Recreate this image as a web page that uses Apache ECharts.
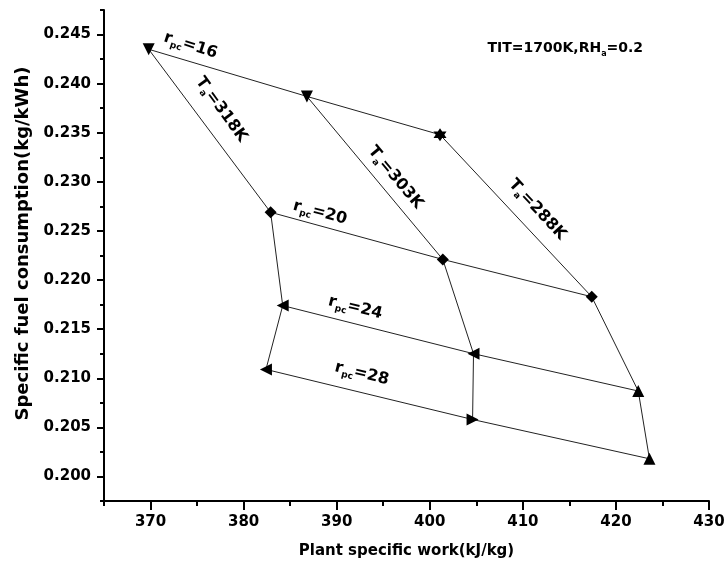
<!DOCTYPE html>
<html>
<head>
<meta charset="utf-8">
<script src="https://cdn.jsdelivr.net/npm/echarts@6/dist/echarts.min.js"></script>
<style>html,body{margin:0;padding:0;background:#fff;}#chart{width:725px;height:571px;}</style>
</head>
<body>
<div id="chart"></div>
<script>
// ---- data ----
const rpcLevels = [16, 20, 24, 28];
const taLevels = [318, 303, 288];
const work318 = [369.8, 382.9, 384.2, 382.4];
const sfc318  = [0.2435, 0.2269, 0.2174, 0.2109];
const work303 = [386.8, 401.4, 404.7, 404.6];
const sfc303  = [0.2387, 0.2221, 0.2125, 0.2058];
const work288 = [401.1, 417.4, 422.4, 423.6];
const sfc288  = [0.2348, 0.2183, 0.2087, 0.2018];
const xTicks = [370, 380, 390, 400, 410, 420, 430];
const xMinorTicks = [365, 375, 385, 395, 405, 415, 425];
const yTicks = [0.200, 0.205, 0.210, 0.215, 0.220, 0.225, 0.230, 0.235, 0.240, 0.245];
const yMinorTicks = [0.1975, 0.2025, 0.2075, 0.2125, 0.2175, 0.2225, 0.2275, 0.2325, 0.2375, 0.2425, 0.2475];
const xTitle = 'Plant specific work(kJ/kg)';
const yTitle = 'Specific fuel consumption(kg/kWh)';
const noteText = '{n|TIT=1700K,RH}{s|a}{n|=0.2}';

// ---- styling ----
const FONT = 'DejaVu Sans';
const cols = [
  {work: work318, sfc: sfc318},
  {work: work303, sfc: sfc303},
  {work: work288, sfc: sfc288}
];
// marker symbol per [row r_pc][column T_a]
const DOWN = {symbol: 'triangle', rot: 180};
const UP = {symbol: 'triangle', rot: 0};
const LEFT = {symbol: 'triangle', rot: 90};
const RIGHT = {symbol: 'triangle', rot: -90};
const DIAM = {symbol: 'diamond', rot: 0};
const STAR = {symbol: 'path://M0,-10L2.89,-5L8.66,-5L5.77,0L8.66,5L2.89,5L0,10L-2.89,5L-8.66,5L-5.77,0L-8.66,-5L-2.89,-5Z', rot: 0};
const markerTable = [
  [DOWN, DOWN, STAR],
  [DIAM, DIAM, DIAM],
  [LEFT, LEFT, UP],
  [LEFT, RIGHT, UP]
];

const lineStyle = {color: '#222', width: 1};
const series = [];
// constant-T_a lines
cols.forEach((c, ci) => {
  series.push({
    type: 'line', name: 'Ta=' + taLevels[ci] + 'K', silent: true, showSymbol: false, symbol: 'none',
    lineStyle: lineStyle, z: 2,
    data: c.work.map((w, i) => [w, c.sfc[i]])
  });
});
// constant-r_pc lines
rpcLevels.forEach((r, ri) => {
  series.push({
    type: 'line', name: 'rpc=' + r, silent: true, showSymbol: false, symbol: 'none',
    lineStyle: lineStyle, z: 2,
    data: cols.map(c => [c.work[ri], c.sfc[ri]])
  });
});
// markers
const markerData = [];
rpcLevels.forEach((r, ri) => {
  cols.forEach((c, ci) => {
    const m = markerTable[ri][ci];
    markerData.push({
      value: [c.work[ri], c.sfc[ri]],
      symbol: m.symbol,
      symbolRotate: m.rot,
      symbolSize: m.symbol === 'diamond' ? 12 : (m.symbol === 'triangle' ? 12 : 13)
    });
  });
});
series.push({
  type: 'scatter', silent: true, z: 5,
  itemStyle: {color: '#000', opacity: 1},
  data: markerData
});

// annotations (text placed in data coordinates)
const rich = {
  n: {fontFamily: FONT, fontWeight: 'bold', fontSize: 16, color: '#000'},
  s: {fontFamily: FONT, fontWeight: 'bold', fontSize: 9, color: '#000', padding: [11, 0, 0, 0]}
};
const annotations = [
  {pos: [374.3, 0.24388], rot: -18, text: '{n|r}{s|pc}{n|=' + rpcLevels[0] + '}'},
  {pos: [388.2, 0.22687], rot: -15, text: '{n|r}{s|pc}{n|=' + rpcLevels[1] + '}'},
  {pos: [392.0, 0.21718], rot: -14, text: '{n|r}{s|pc}{n|=' + rpcLevels[2] + '}'},
  {pos: [392.7, 0.21046], rot: -14, text: '{n|r}{s|pc}{n|=' + rpcLevels[3] + '}'},
  {pos: [377.6, 0.23736], rot: -54, text: '{n|T}{s|a}{n|=' + taLevels[0] + 'K}'},
  {pos: [396.3, 0.23043], rot: -50, text: '{n|T}{s|a}{n|=' + taLevels[1] + 'K}'},
  {pos: [411.55, 0.22717], rot: -47, text: '{n|T}{s|a}{n|=' + taLevels[2] + 'K}'},
  {pos: [414.56, 0.24357], rot: 0, text: noteText}
];
const noteRich = {
  n: {fontFamily: FONT, fontWeight: 'bold', fontSize: 14, color: '#000'},
  s: {fontFamily: FONT, fontWeight: 'bold', fontSize: 8, color: '#000', padding: [10, 0, 0, 0]}
};
annotations.forEach((a, i) => {
  series.push({
    type: 'scatter', silent: true, z: 6,
    symbol: 'circle', symbolSize: 1,
    itemStyle: {color: 'rgba(0,0,0,0)', opacity: 1},
    label: {show: true, position: 'inside', rotate: a.rot, color: '#000', opacity: 1,
            formatter: a.text, rich: (i === annotations.length - 1) ? noteRich : rich},
    data: [a.pos]
  });
});

const axisFont = {fontFamily: FONT, fontWeight: 'bold', fontSize: 15, color: '#000'};
const axisLineStyle = {color: '#000', width: 2};
const xMin = 365, xMax = 430, yMin = 0.1975, yMax = 0.2475;

const option = {
  animation: false,
  backgroundColor: '#fff',
  grid: {left: 104, right: 16, top: 10, bottom: 70, containLabel: false, outerBoundsMode: 'none'},
  xAxis: [
    {
      type: 'value', position: 'bottom', min: xMin, max: xMax,
      name: xTitle, nameLocation: 'middle', nameGap: 43,
      nameTextStyle: {fontFamily: FONT, fontWeight: 'bold', fontSize: 15, color: '#000'},
      axisLine: {show: true, onZero: false, lineStyle: axisLineStyle},
      axisTick: {show: true, length: 9, customValues: xTicks, lineStyle: {color: '#000', width: 2}},
      axisLabel: {show: true, margin: 14, customValues: xTicks, formatter: v => String(Math.round(v)), ...axisFont},
      splitLine: {show: false}
    },
    {
      type: 'value', position: 'bottom', min: xMin, max: xMax,
      axisLine: {show: false, onZero: false},
      axisTick: {show: true, length: 5, customValues: xMinorTicks, lineStyle: {color: '#000', width: 2}},
      axisLabel: {show: false},
      splitLine: {show: false}
    }
  ],
  yAxis: [
    {
      type: 'value', position: 'left', min: yMin, max: yMax,
      name: yTitle, nameLocation: 'middle', nameGap: 55, nameRotate: 90,
      nameTextStyle: {fontFamily: FONT, fontWeight: 'bold', fontSize: 18, color: '#000', padding: [0, 0, 0, 24]},
      axisLine: {show: true, onZero: false, lineStyle: axisLineStyle},
      axisTick: {show: true, length: 7, customValues: yTicks, lineStyle: {color: '#000', width: 2}},
      axisLabel: {show: true, margin: 13, customValues: yTicks, formatter: v => v.toFixed(3), ...axisFont},
      splitLine: {show: false}
    },
    {
      type: 'value', position: 'left', min: yMin, max: yMax,
      axisLine: {show: false, onZero: false},
      axisTick: {show: true, length: 4, customValues: yMinorTicks, lineStyle: {color: '#000', width: 2}},
      axisLabel: {show: false},
      splitLine: {show: false}
    }
  ],
  series: series
};

const chart = echarts.init(document.getElementById('chart'), null, {renderer: 'canvas'});
chart.setOption(option);
</script>
</body>
</html>
